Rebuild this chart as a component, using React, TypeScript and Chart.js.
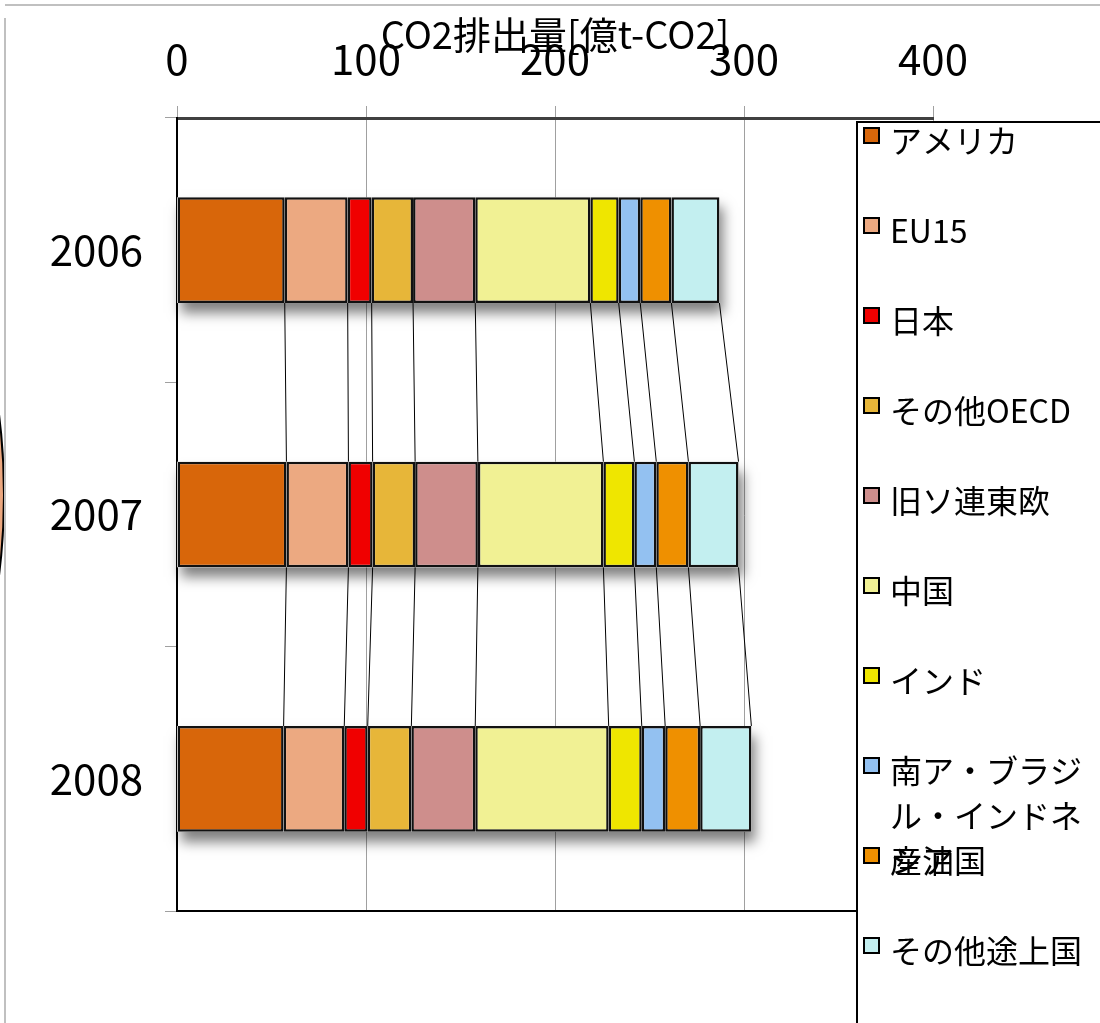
import React, { useEffect, useRef } from "react";
import { Chart, registerables } from "chart.js";

Chart.register(...registerables);

const years = ["2006", "2007", "2008"];
const seriesNames = [
  "アメリカ",
  "EU15",
  "日本",
  "その他OECD",
  "旧ソ連東欧",
  "中国",
  "インド",
  "南ア・ブラジル・インドネシア",
  "産油国",
  "その他途上国",
];
const america = [57.0, 57.9, 56.4];
const eu15 = [33.3, 32.8, 32.1];
const japan = [12.7, 12.8, 12.4];
const otherOecd = [21.9, 22.5, 23.1];
const fsuEastEurope = [32.9, 33.2, 33.8];
const china = [60.9, 66.4, 70.6];
const india = [15.0, 16.4, 17.5];
const saBrazilIndonesia = [11.4, 11.6, 12.4];
const oilProducers = [16.5, 17.0, 18.5];
const otherDeveloping = [25.4, 26.5, 27.1];
const seriesValues = [
  america,
  eu15,
  japan,
  otherOecd,
  fsuEastEurope,
  china,
  india,
  saBrazilIndonesia,
  oilProducers,
  otherDeveloping,
];
const seriesColors = [
  "#D8660A",
  "#ECA981",
  "#F00000",
  "#E7B639",
  "#CE8E8C",
  "#F1F194",
  "#EFE600",
  "#93C1F1",
  "#EF9000",
  "#C3EFF0",
];
const xAxisTitle = "CO2排出量[億t-CO2]";
const xMin = 0;
const xMax = 400;
const xStep = 100;

const FONT = "'Liberation Sans Narrow', 'Noto Sans CJK JP', sans-serif";

const framePlugin = {
  id: "frame",
  beforeDraw(chart: any) {
    const ctx = chart.ctx;
    ctx.save();
    ctx.fillStyle = "#ffffff";
    ctx.fillRect(0, 0, chart.width, chart.height);
    // stray partial ellipse at the left edge
    ctx.beginPath();
    ctx.ellipse(-200, 495, 204, 365, 0, 0, Math.PI * 2);
    ctx.fillStyle = "#EBA77F";
    ctx.fill();
    ctx.strokeStyle = "#000000";
    ctx.lineWidth = 2;
    ctx.stroke();
    ctx.strokeStyle = "#c0c0c0";
    ctx.lineWidth = 2;
    ctx.beginPath();
    ctx.moveTo(5, 5);
    ctx.lineTo(chart.width, 5);
    ctx.moveTo(5, 18);
    ctx.lineTo(5, chart.height);
    ctx.stroke();
    ctx.restore();
  },
};

const shadowPlugin = {
  id: "barShadow",
  beforeDatasetsDraw(chart: any) {
    const ctx = chart.ctx;
    const xs = chart.scales.x;
    const meta = chart.getDatasetMeta(0);
    ctx.save();
    meta.data.forEach((bar: any, i: number) => {
      let total = 0;
      chart.data.datasets.forEach((d: any) => (total += d.data[i]));
      const l = xs.getPixelForValue(0);
      const r = xs.getPixelForValue(total);
      const h = bar.height;
      ctx.shadowColor = "rgba(0,0,0,0.5)";
      ctx.shadowBlur = 12;
      ctx.shadowOffsetX = 4;
      ctx.shadowOffsetY = 10;
      ctx.fillStyle = "#ffffff";
      ctx.fillRect(l, bar.y - h / 2, r - l, h);
    });
    ctx.restore();
  },
};

const seriesLinePlugin = {
  id: "seriesLines",
  afterDatasetsDraw(chart: any) {
    const ctx = chart.ctx;
    const xs = chart.scales.x;
    const meta = chart.getDatasetMeta(0);
    const n = chart.data.labels.length;
    const ds = chart.data.datasets;
    ctx.save();
    ctx.strokeStyle = "#000000";
    ctx.lineWidth = 1;
    for (let i = 0; i < n - 1; i++) {
      const a = meta.data[i];
      const b = meta.data[i + 1];
      let cumA = 0;
      let cumB = 0;
      for (let k = 0; k <= ds.length; k++) {
        if (k > 0) {
          cumA += ds[k - 1].data[i];
          cumB += ds[k - 1].data[i + 1];
        }
        ctx.beginPath();
        ctx.moveTo(xs.getPixelForValue(cumA), a.y + a.height / 2);
        ctx.lineTo(xs.getPixelForValue(cumB), b.y - b.height / 2);
        ctx.stroke();
      }
    }
    ctx.restore();
  },
};

const boxLegendPlugin = {
  id: "boxLegend",
  afterDraw(chart: any) {
    const ctx = chart.ctx;
    const area = chart.chartArea;
    ctx.save();
    ctx.strokeStyle = "#000000";
    ctx.lineWidth = 2;
    ctx.beginPath();
    ctx.moveTo(area.left, area.bottom);
    ctx.lineTo(area.right, area.bottom);
    ctx.stroke();

    const bx = 857;
    const by = 122;
    ctx.fillStyle = "#ffffff";
    ctx.fillRect(bx, by, chart.width - bx + 10, chart.height - by + 10);
    ctx.strokeStyle = "#000000";
    ctx.lineWidth = 2;
    ctx.strokeRect(bx, by, chart.width - bx + 10, chart.height - by + 10);

    ctx.font = `32px ${FONT}`;
    ctx.textBaseline = "middle";
    ctx.textAlign = "left";
    const textX = 890;
    const maxW = chart.width - textX - 3;
    chart.data.datasets.forEach((d: any, i: number) => {
      const cy = 141 + i * 90;
      ctx.fillStyle = d.backgroundColor;
      ctx.fillRect(864, cy - 13, 15, 15);
      ctx.strokeStyle = "#000000";
      ctx.lineWidth = 2;
      ctx.strokeRect(864, cy - 13, 15, 15);
      const lines: string[] = [];
      let cur = "";
      for (const ch of Array.from(String(d.label))) {
        if (cur && ctx.measureText(cur + ch).width > maxW) {
          lines.push(cur);
          cur = ch;
        } else {
          cur += ch;
        }
      }
      if (cur) lines.push(cur);
      ctx.fillStyle = "#000000";
      lines.forEach((ln, j) => {
        ctx.fillText(ln, textX, cy + j * 45);
      });
    });
    ctx.restore();
  },
};

export default function App() {
  const ref = useRef<HTMLCanvasElement | null>(null);
  useEffect(() => {
    document.body.style.margin = "0";
    if (!ref.current) return;
    const chart = new Chart(ref.current, {
      type: "bar",
      data: {
        labels: years,
        datasets: seriesNames.map((name, i) => ({
          label: name,
          data: seriesValues[i],
          backgroundColor: seriesColors[i],
          borderColor: "#111111",
          borderWidth: 2.5,
          borderSkipped: false,
          barPercentage: 0.4,
          categoryPercentage: 1,
        })),
      },
      options: {
        indexAxis: "y",
        responsive: false,
        animation: false,
        layout: { padding: { left: 0, top: 0, right: 167, bottom: 112 } },
        plugins: {
          legend: { display: false },
          tooltip: { enabled: false },
          title: { display: false },
        },
        scales: {
          x: {
            type: "linear",
            position: "top",
            stacked: true,
            min: xMin,
            max: xMax,
            ticks: {
              stepSize: xStep,
              color: "#000000",
              padding: 22,
              font: { family: FONT, size: 42 },
            },
            grid: {
              color: "#a0a0a0",
              lineWidth: 1,
              tickLength: 12,
            },
            border: { display: true, color: "#404040", width: 3 },
            title: {
              display: true,
              text: xAxisTitle,
              color: "#000000",
              font: { family: FONT, size: 38 },
              padding: { top: 12, bottom: 0 },
            },
            afterFit: (s: any) => {
              s.height = 118;
            },
          },
          y: {
            type: "category",
            stacked: true,
            ticks: {
              color: "#000000",
              padding: 22,
              font: { family: FONT, size: 42 },
            },
            grid: {
              drawOnChartArea: false,
              color: "#a0a0a0",
              tickLength: 12,
              offset: true,
            },
            border: { display: true, color: "#000000", width: 2 },
            afterFit: (s: any) => {
              s.width = 177;
            },
          },
        },
      } as any,
      plugins: [framePlugin, shadowPlugin, seriesLinePlugin, boxLegendPlugin],
    });
    return () => chart.destroy();
  }, []);
  return (
    <canvas
      ref={ref}
      width={1100}
      height={1023}
      style={{ display: "block", width: 1100, height: 1023 }}
    />
  );
}
